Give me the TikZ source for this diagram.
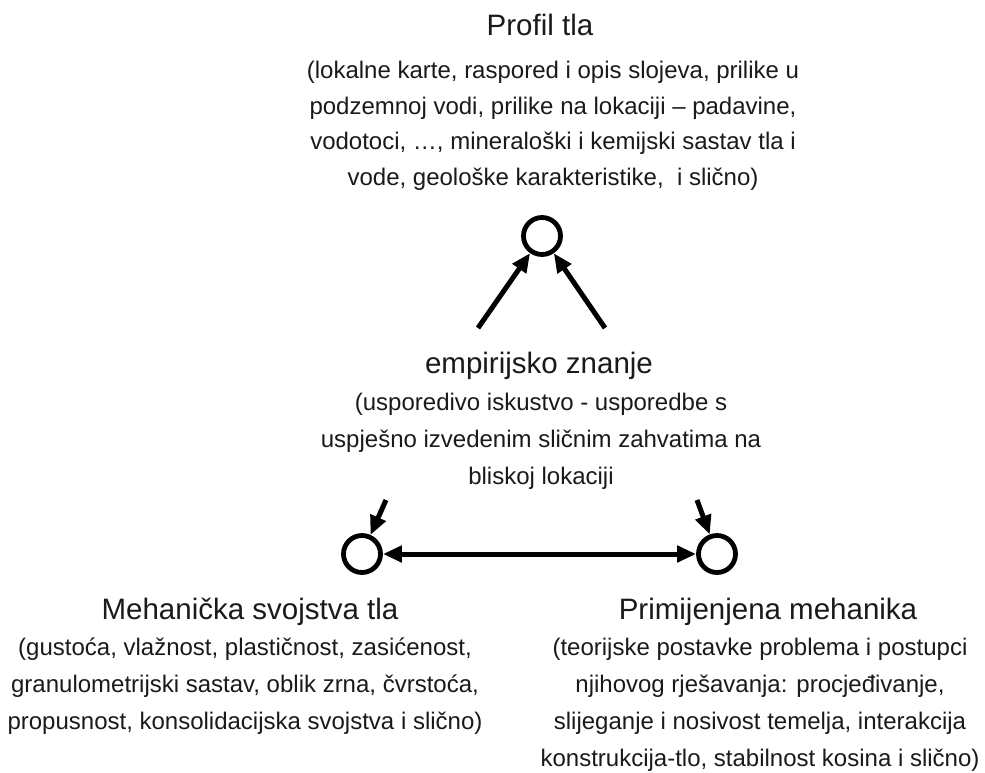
\documentclass[tikz,border=0pt]{standalone}
\usepackage{fontspec}
\setmainfont{Liberation Sans}
\usetikzlibrary{arrows.meta}
\definecolor{ink}{HTML}{1A1A1A}
\tikzset{
  ttl/.style={font=\fontsize{29.5}{34}\selectfont, text=ink, inner sep=0pt, anchor=base},
  body/.style={font=\fontsize{24}{37}\selectfont, text=ink, align=center, inner sep=0pt, anchor=north},
  ring/.style={circle, draw=black, line width=4.8pt, minimum size=37pt, inner sep=0pt},
  arr/.style={line width=5pt, -{Triangle[length=19pt,width=16pt]}},
  darr/.style={line width=5pt, {Triangle[length=19pt,width=16pt]}-{Triangle[length=19pt,width=16pt]}}
}
\begin{document}
\begin{tikzpicture}[x=1pt,y=-1pt]
\useasboundingbox[fill=white] (0,0) rectangle (985,772);
% top block
\node[ttl] (t1) at (540,35) {Profil tla};
\node[body, font=\fontsize{24}{35.7}\selectfont] (b1) at (553,61) {(lokalne karte, raspored i opis slojeva, prilike u\\
podzemnoj vodi, prilike na lokaciji -- padavine,\\
vodotoci, \ldots, mineralo\v{s}ki i kemijski sastav tla i\\
vode, geolo\v{s}ke karakteristike,\ \ i sli\v{c}no)};
% middle block
\node[ttl] (t2) at (539,373) {empirijsko znanje};
\node[body] (b2) at (541,393) {(usporedivo iskustvo - usporedbe s\\
uspje\v{s}no izvedenim sli\v{c}nim zahvatima na\\
bliskoj lokaciji};
% bottom left
\node[ttl] (t3) at (250,619) {Mehani\v{c}ka svojstva tla};
\node[body] (b3) at (245,638) {(gusto\'{c}a, vla\v{z}nost, plasti\v{c}nost, zasi\'{c}enost,\\
granulometrijski sastav, oblik zrna, \v{c}vrsto\'{c}a,\\
propusnost, konsolidacijska svojstva i sli\v{c}no)};
% bottom right
\node[ttl] (t4) at (768,619) {Primijenjena mehanika};
\node[body] (b4) at (760,638) {(teorijske postavke problema i postupci\\
njihovog rje\v{s}avanja: procje\dj ivanje,\\
slijeganje i nosivost temelja, interakcija\\
konstrukcija-tlo, stabilnost kosina i sli\v{c}no)};
% rings
\node[ring] (top) at (542,236) {};
\node[ring] (bl) at (362,554) {};
\node[ring] (br) at (717,554) {};
% arrow tails
\coordinate (a1) at (478,328);
\coordinate (a2) at (605,328);
\coordinate (a3) at (386,500);
\coordinate (a4) at (697,500);
\draw[arr] (a1) -- (top);
\draw[arr] (a2) -- (top);
\draw[arr] (a3) -- (bl);
\draw[arr] (a4) -- (br);
\draw[darr] (bl) -- (br);
\end{tikzpicture}
\end{document}
